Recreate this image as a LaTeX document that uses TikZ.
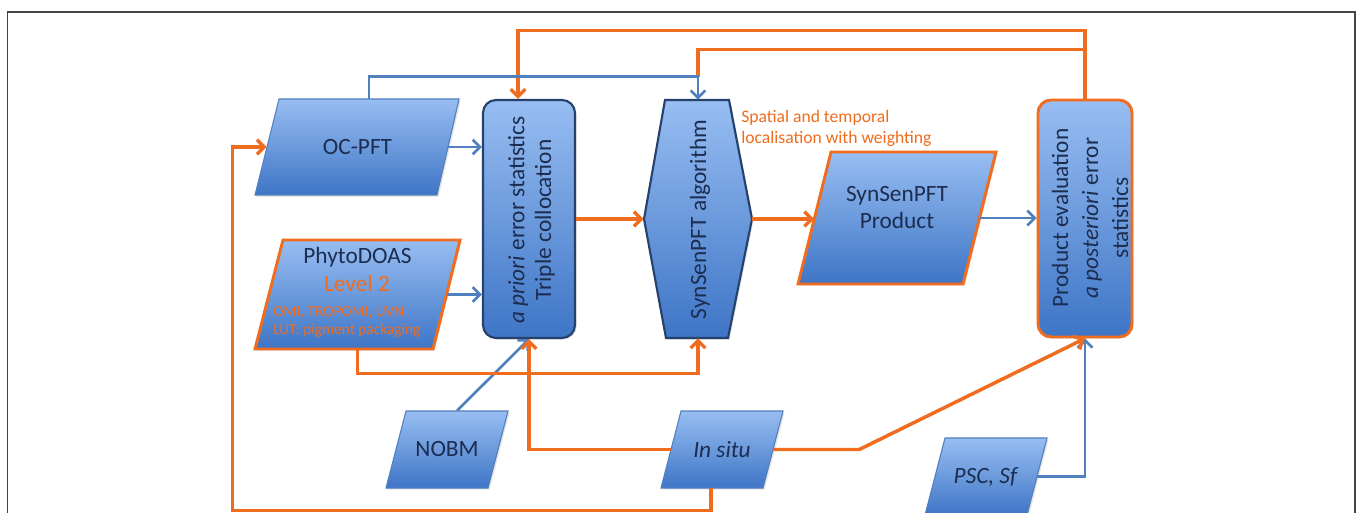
\documentclass[tikz,border=0pt]{standalone}
\usepackage{fontspec}
\setmainfont{Carlito}
\usetikzlibrary{arrows.meta,calc,shadows}
\definecolor{orn}{RGB}{240,108,30}
\definecolor{bln}{RGB}{80,128,190}
\definecolor{navy}{RGB}{38,66,108}
\definecolor{txt}{RGB}{28,45,80}
\definecolor{ftop}{RGB}{152,190,242}
\definecolor{fbot}{RGB}{62,117,198}
\definecolor{framecol}{RGB}{70,70,70}
\newcommand\pxu{0.75pt}
\tikzset{
 fillshape/.style={top color=ftop, bottom color=fbot, drop shadow={opacity=0.22,shadow xshift=1.2pt,shadow yshift=-1.2pt}},
 thinblue/.style={fillshape, draw=bln, line width=0.8pt},
 navyline/.style={fillshape, draw=navy, line width=1.6pt},
 orline/.style={fillshape, draw=orn, line width=2.2pt},
 holder/.style={draw=none, inner sep=0pt, rectangle},
 mainlabel/.style={font=\fontsize{17.5}{20}\selectfont, text=txt, align=center},
 orconn/.style={draw=orn, line width=2.6pt},
 blconn/.style={draw=bln, line width=2pt},
 arr/.style={-{Straight Barb[length=5.5pt,width=11pt]}},
}
\begin{document}
\begin{tikzpicture}[x=0.75pt,y=-0.75pt]
\useasboundingbox (0,0) rectangle (1358,513);
\fill[white] (0,0) rectangle (1358,513);
\clip (0,0) rectangle (1358,513);
\draw[framecol, line width=1.1pt] (7.5,520) -- (7.5,12) -- (1355,12) -- (1355,520);

% ---- shapes ----
% OC-PFT
\path[thinblue] (279,99) -- (459,99) -- (437,195) -- (255,195) -- cycle;
\node[holder, minimum width=181*\pxu, minimum height=96*\pxu, mainlabel] (oc) at (357.5,147) {OC-PFT};
% PhytoDOAS
\path[orline] (283,240) -- (460,240) -- (433,349) -- (255,349) -- cycle;
\node[holder, minimum width=177.5*\pxu, minimum height=109*\pxu] (phy) at (357.75,294.5) {};
\node[mainlabel] (phyA) at (357.5,257) {PhytoDOAS};
\node[mainlabel, text=orn] (phyB) at (357,283) {Level 2};
\node[anchor=west, align=left, text=orn, inner sep=0pt, font=\fontsize{11.5}{13.5}\selectfont] (phyC) at (273,322) {OMI, TROPOMI, UVN\\LUT: pigment packaging};
% Triple collocation
\node[navyline, rectangle, rounded corners=13*\pxu, minimum width=92*\pxu, minimum height=238*\pxu, inner sep=0pt] (tc) at (529,219) {};
\node[rotate=90, mainlabel] (tcT) at (531.5,220) {\textit{a priori} error statistics\\Triple collocation};
% SynSenPFT algorithm
\path[navyline] (665,100) -- (729,100) -- (752,219) -- (728,338) -- (666,338) -- (644,219) -- cycle;
\node[holder, minimum width=108*\pxu, minimum height=238*\pxu] (alg) at (698,219) {};
\node[rotate=90, mainlabel] (algT) at (700,219.5) {SynSenPFT algorithm};
% SynSenPFT Product
\path[orline] (831,152) -- (996,152) -- (963,284) -- (798,284) -- cycle;
\node[holder, minimum width=165*\pxu, minimum height=132*\pxu] (prod) at (897,218) {};
\node[mainlabel] (prodT) at (897,207.5) {SynSenPFT\\Product};
% Product evaluation
\node[orline, rectangle, rounded corners=13*\pxu, minimum width=94*\pxu, minimum height=237*\pxu, inner sep=0pt] (pe) at (1085,218.5) {};
\node[rotate=90, mainlabel, font=\fontsize{17.5}{22.5}\selectfont] (peT) at (1090,218) {Product evaluation\\\textit{a posteriori} error\\statistics};
% NOBM
\path[thinblue] (406,411) -- (508,411) -- (488,488) -- (386,488) -- cycle;
\node[holder, minimum width=102*\pxu, minimum height=77*\pxu, mainlabel] (nobm) at (447,449.5) {NOBM};
% In situ
\path[thinblue] (681,411) -- (783,411) -- (763,488) -- (661,488) -- cycle;
\node[holder, minimum width=102*\pxu, minimum height=77*\pxu, mainlabel] (situ) at (722,449.5) {\textit{In situ}};
% PSC, Sf
\path[thinblue] (945,438) -- (1047,438) -- (1027,515) -- (925,515) -- cycle;
\node[holder, minimum width=102*\pxu, minimum height=77*\pxu, mainlabel] (psc) at (986,476.5) {\textit{PSC, Sf}};

% label
\node[anchor=west, align=left, text=orn, inner sep=0pt, font=\fontsize{13.2}{15.8}\selectfont] (lab) at (741,128.5) {Spatial and temporal\\localisation with weighting};

% ---- connectors ----
% orange feedback lines from product evaluation
\draw[orconn] ($(pe.north)+(0,-49)$) -| ($(alg.north)+(0,-23)$);
\draw[orconn, arr] (pe.north) -- ++(0,-68) -| ($(tc.north)+(-11,0)$);
% blue from OC-PFT to algorithm
\draw[blconn, arr] ($(oc.north)+(11.5,0)$) |- ($(alg.north)+(0,-23)$) -- (alg.north);
\draw[blconn, arr] (oc.east) -- (oc.east -| tc.west);
\draw[blconn, arr] (phy.east) -- (phy.east -| tc.west);
\draw[blconn, arr] ($(nobm.north)+(10,0)$) -- (tc.south);
\draw[blconn, arr] (prod.east) -- (prod.east -| pe.west);
\draw[blconn, arr] (psc.east) -| (pe.south);
% orange
\draw[orconn, arr] (tc.east) -- (alg.west);
\draw[orconn, arr] (alg.east) -- (alg.east -| prod.west);
\draw[orconn, arr] (phy.south) -- ++(0,24) -| (alg.south);
\draw[orconn, arr] (situ.west) -| (tc.south);
\draw[orconn, arr] (situ.east) -- ++(86,0) -- (pe.south);
\draw[orconn, arr] ($(situ.south)+(-11,0)$) -- ++(0,22) -| ($(oc.west)+(-34,0)$) -- (oc.west);
\end{tikzpicture}
\end{document}
